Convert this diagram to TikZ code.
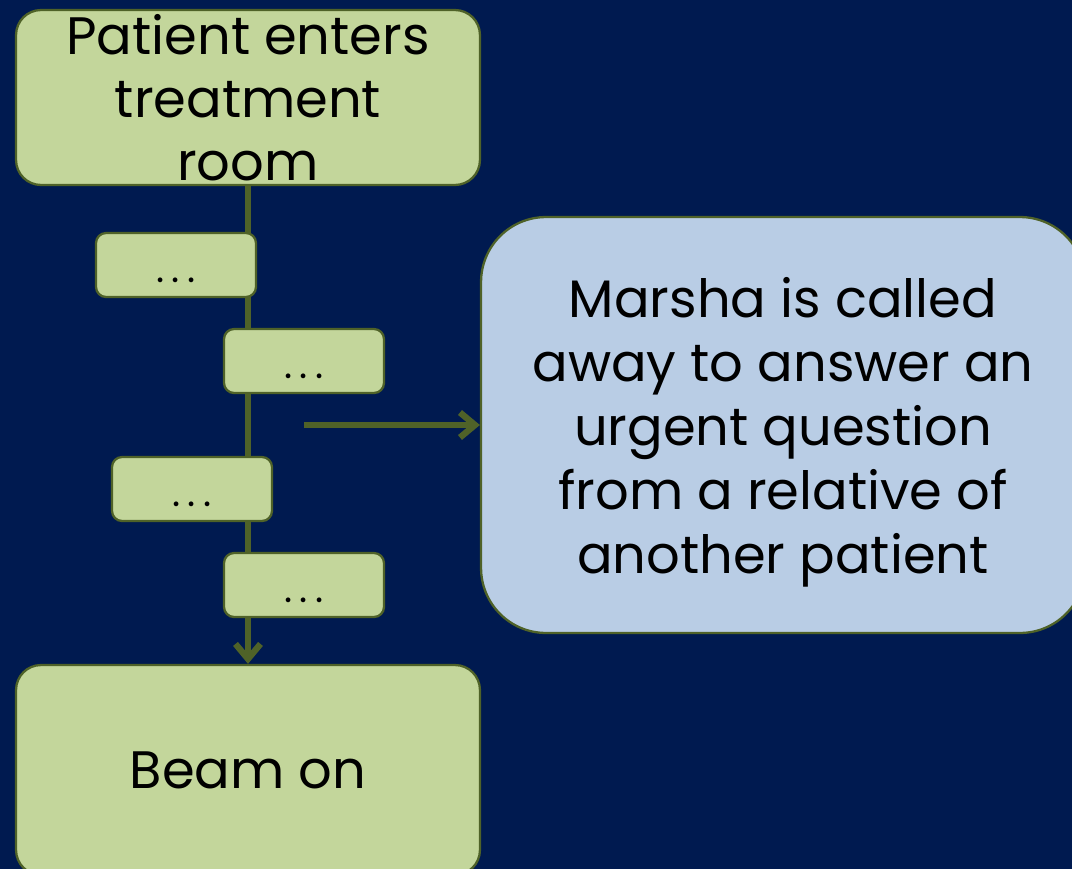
\documentclass[tikz,border=0pt]{standalone}
\usepackage{fontspec}
\setmainfont{Poppins}
\usetikzlibrary{
  arrows.meta,              % Straight Barb arrow tips
  positioning               % relative placement
}

\definecolor{navybg}{HTML}{001A50}
\definecolor{olivefill}{HTML}{C3D69B}
\definecolor{olivedark}{HTML}{4F6228}
\definecolor{steelfill}{HTML}{B9CDE5}

\newcommand{\stepdots}{.\kern4pt.\kern4pt.}

\tikzset{
  bigbox/.style={draw=olivedark, fill=olivefill, line width=1.3pt,
    rounded corners=0.5cm, minimum width=9.28cm, inner sep=0pt,
    align=center, font=\fontsize{30}{36}\selectfont},
  dotbox/.style={draw=olivedark, fill=olivefill, line width=1.3pt,
    rounded corners=0.2cm, minimum width=3.2cm, minimum height=1.28cm,
    inner sep=0pt, text height=20pt, text depth=0pt,
    font=\fontsize{22}{26}\selectfont},
  callbox/.style={draw=olivedark, fill=steelfill, line width=1.3pt,
    rounded corners=1.3cm, minimum width=12.08cm, minimum height=8.32cm,
    inner sep=0pt, align=center, font=\fontsize{30}{36.5}\selectfont},
  flow/.style={draw=olivedark, line width=3.6pt}
}

\begin{document}
\begin{tikzpicture}[x=0.02cm, y=-0.02cm, >={Straight Barb[length=3mm,width=5mm]}]
    % --- canvas ---
    \useasboundingbox (0,0) rectangle (1072,869);
    \fill[navybg] (0,0) rectangle (1072,869);

    % --- start, end and side boxes ---
    \node[bigbox, minimum height=3.5cm] (enter) at (248,97.5) {Patient enters\\treatment\\room};
    \node[bigbox, minimum height=4.2cm] (beam) at (248,770) {Beam on};
    \node[callbox] (marsha) at (783,425) {\rule{0pt}{31pt}Marsha is called\\away to answer an\\urgent question\\from a relative of\\another patient};

    % --- flow lines ---
    \draw[flow, ->] (enter.south) -- (beam.north);
    \coordinate (tap) at (304,425);
    \draw[flow, ->] (tap) -- (marsha.west);

    % --- intermediate steps ---
    \foreach \name/\cx/\cy in {s1/176/265, s2/304/361, s3/192/489, s4/304/585}{
      \node[dotbox] (\name) at (\cx,\cy) {\stepdots};
    }

  \end{tikzpicture}
\end{document}
